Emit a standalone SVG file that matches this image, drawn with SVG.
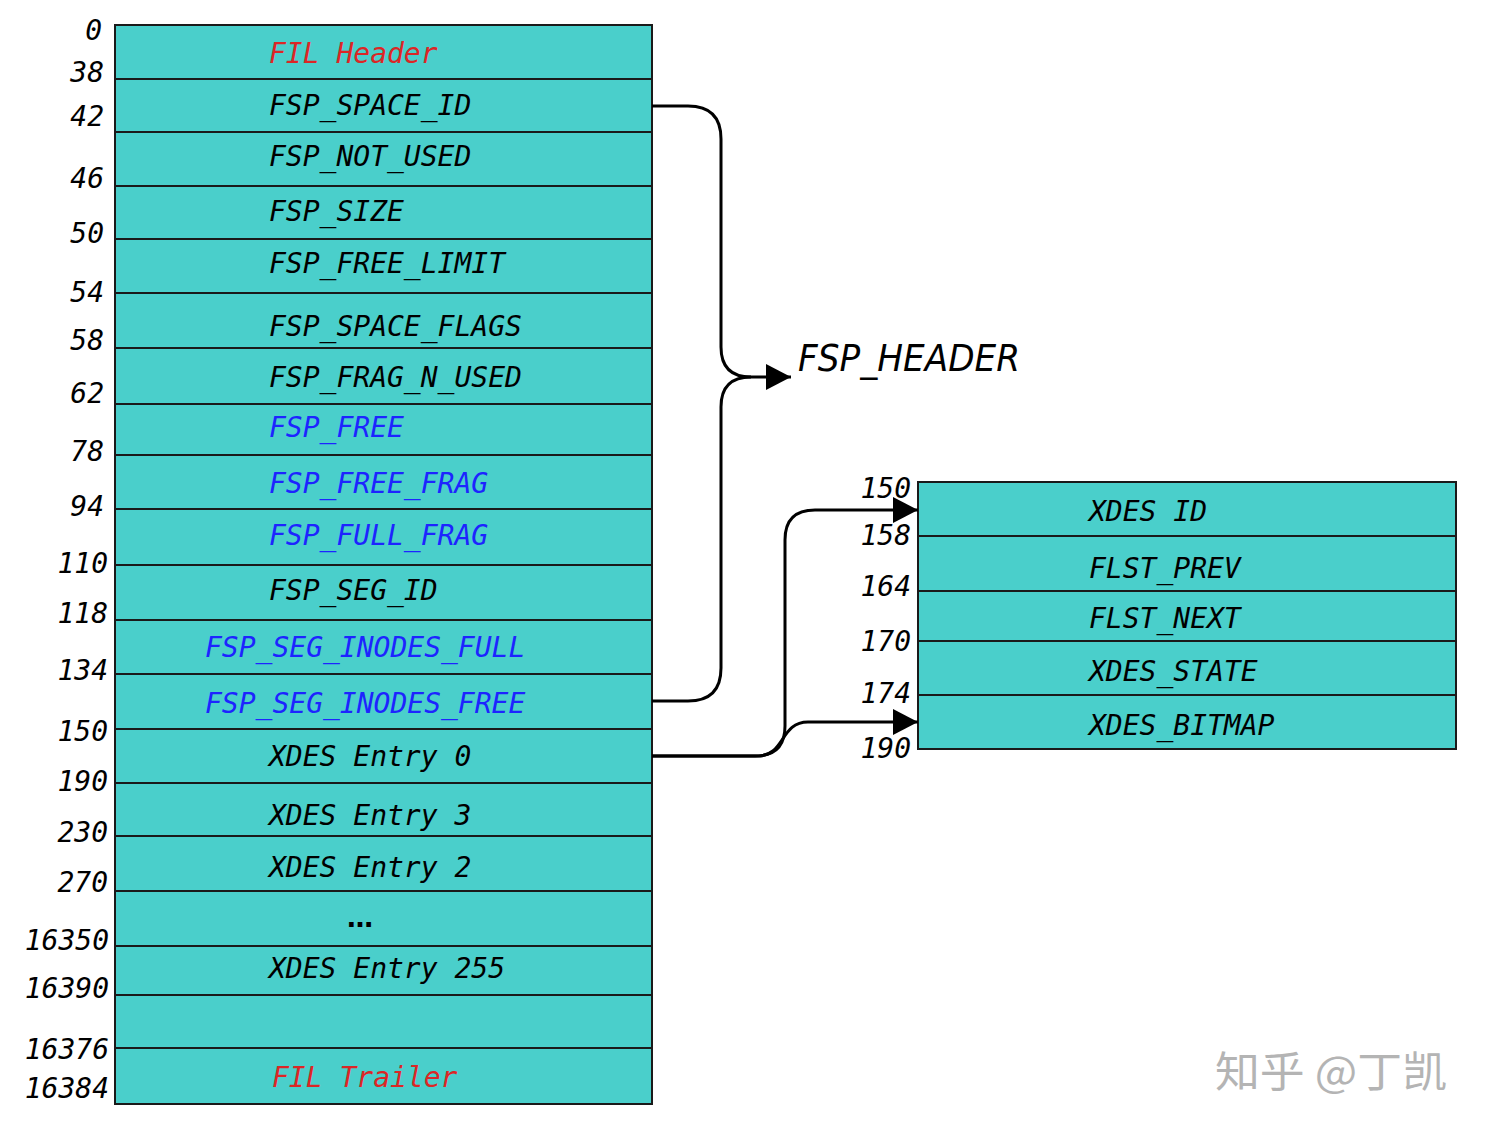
<svg xmlns="http://www.w3.org/2000/svg" width="1486" height="1132" viewBox="0 0 1486 1132">
<style>
.cell{fill:#4acfcb;stroke:#1a1a1a;stroke-width:2}
.t{font-family:"DejaVu Sans Mono","Liberation Mono",monospace;font-style:italic;font-size:28px;fill:#000}
.off{font-family:"DejaVu Sans Mono","Liberation Mono",monospace;font-style:italic;font-size:28px;fill:#000;text-anchor:end}
.red{fill:#dc2626}
.blue{fill:#1d24ff}
.conn{fill:none;stroke:#000;stroke-width:3}
</style>
<defs>
<marker id="arr" markerUnits="userSpaceOnUse" markerWidth="27" markerHeight="28" refX="25" refY="13" orient="auto">
<path d="M0,0 L25,13 L0,26 Z" fill="#000"/>
</marker>
</defs>
<rect width="1486" height="1132" fill="#fff"/>

<g id="page">
<g id="r-fil-header"><rect class="cell" x="115" y="25" width="537" height="54"/><text class="t red" x="269" y="63">FIL Header</text></g>
<g id="r-space-id"><rect class="cell" x="115" y="79" width="537" height="53"/><text class="t" x="269" y="115">FSP_SPACE_ID</text></g>
<g id="r-not-used"><rect class="cell" x="115" y="132" width="537" height="54"/><text class="t" x="269" y="166">FSP_NOT_USED</text></g>
<g id="r-size"><rect class="cell" x="115" y="186" width="537" height="53"/><text class="t" x="269" y="221">FSP_SIZE</text></g>
<g id="r-free-limit"><rect class="cell" x="115" y="239" width="537" height="54"/><text class="t" x="269" y="273">FSP_FREE_LIMIT</text></g>
<g id="r-space-flags"><rect class="cell" x="115" y="293" width="537" height="55"/><text class="t" x="269" y="336">FSP_SPACE_FLAGS</text></g>
<g id="r-frag-n-used"><rect class="cell" x="115" y="348" width="537" height="56"/><text class="t" x="269" y="387">FSP_FRAG_N_USED</text></g>
<g id="r-free"><rect class="cell" x="115" y="404" width="537" height="51"/><text class="t blue" x="269" y="437">FSP_FREE</text></g>
<g id="r-free-frag"><rect class="cell" x="115" y="455" width="537" height="54"/><text class="t blue" x="269" y="493">FSP_FREE_FRAG</text></g>
<g id="r-full-frag"><rect class="cell" x="115" y="509" width="537" height="56"/><text class="t blue" x="269" y="545">FSP_FULL_FRAG</text></g>
<g id="r-seg-id"><rect class="cell" x="115" y="565" width="537" height="55"/><text class="t" x="269" y="600">FSP_SEG_ID</text></g>
<g id="r-inodes-full"><rect class="cell" x="115" y="620" width="537" height="54"/><text class="t blue" x="205" y="657">FSP_SEG_INODES_FULL</text></g>
<g id="r-inodes-free"><rect class="cell" x="115" y="674" width="537" height="55"/><text class="t blue" x="205" y="713">FSP_SEG_INODES_FREE</text></g>
<g id="r-xdes0"><rect class="cell" x="115" y="729" width="537" height="54"/><text class="t" x="269" y="766">XDES Entry 0</text></g>
<g id="r-xdes3"><rect class="cell" x="115" y="783" width="537" height="53"/><text class="t" x="269" y="825">XDES Entry 3</text></g>
<g id="r-xdes2"><rect class="cell" x="115" y="836" width="537" height="55"/><text class="t" x="269" y="877">XDES Entry 2</text></g>
<g id="r-ellipsis"><rect class="cell" x="115" y="891" width="537" height="55"/><text x="360" y="927" text-anchor="middle" font-family="DejaVu Sans,sans-serif" font-weight="bold" font-size="26" fill="#000">…</text></g>
<g id="r-xdes255"><rect class="cell" x="115" y="946" width="537" height="49"/><text class="t" x="269" y="978">XDES Entry 255</text></g>
<g id="r-empty"><rect class="cell" x="115" y="995" width="537" height="53"/></g>
<g id="r-fil-trailer"><rect class="cell" x="115" y="1048" width="537" height="56"/><text class="t red" x="272" y="1087">FIL Trailer</text></g>
</g>

<g id="offsets-left">
<text class="off" x="102" y="40">0</text>
<text class="off" x="104" y="82">38</text>
<text class="off" x="104" y="126">42</text>
<text class="off" x="104" y="188">46</text>
<text class="off" x="104" y="243">50</text>
<text class="off" x="104" y="302">54</text>
<text class="off" x="104" y="350">58</text>
<text class="off" x="104" y="403">62</text>
<text class="off" x="104" y="461">78</text>
<text class="off" x="104" y="516">94</text>
<text class="off" x="108" y="573">110</text>
<text class="off" x="108" y="623">118</text>
<text class="off" x="108" y="680">134</text>
<text class="off" x="108" y="741">150</text>
<text class="off" x="108" y="791">190</text>
<text class="off" x="108" y="842">230</text>
<text class="off" x="108" y="892">270</text>
<text class="off" x="109" y="950">16350</text>
<text class="off" x="109" y="998">16390</text>
<text class="off" x="109" y="1059">16376</text>
<text class="off" x="109" y="1098">16384</text>
</g>

<g id="xdes">
<g id="x-id"><rect class="cell" x="918" y="482" width="538" height="54"/><text class="t" x="1089" y="521">XDES ID</text></g>
<g id="x-prev"><rect class="cell" x="918" y="536" width="538" height="55"/><text class="t" x="1089" y="578">FLST_PREV</text></g>
<g id="x-next"><rect class="cell" x="918" y="591" width="538" height="50"/><text class="t" x="1089" y="628">FLST_NEXT</text></g>
<g id="x-state"><rect class="cell" x="918" y="641" width="538" height="54"/><text class="t" x="1089" y="681">XDES_STATE</text></g>
<g id="x-bitmap"><rect class="cell" x="918" y="695" width="538" height="54"/><text class="t" x="1089" y="735">XDES_BITMAP</text></g>
</g>

<g id="offsets-right">
<text class="off" x="911" y="498">150</text>
<text class="off" x="911" y="545">158</text>
<text class="off" x="911" y="596">164</text>
<text class="off" x="911" y="651">170</text>
<text class="off" x="911" y="703">174</text>
<text class="off" x="911" y="758">190</text>
</g>

<g id="label-fsp-header">
<text x="798" y="371" font-family="DejaVu Sans,sans-serif" font-style="italic" font-size="37" textLength="222" lengthAdjust="spacingAndGlyphs" fill="#000">FSP_HEADER</text>
</g>

<g id="connectors">
<path class="conn" d="M652,106 H688 Q721,106 721,139 V347 Q721,377 751,377 H791" marker-end="url(#arr)"/>
<path class="conn" d="M652,701 H688 Q721,701 721,668 V407 Q721,377 751,377"/>
<path class="conn" d="M652,756 H755 Q785,756 785,726 V540 Q785,510 815,510 H918" marker-end="url(#arr)"/>
<path class="conn" d="M652,756 H758 C785,756 780,722 808,722 H918" marker-end="url(#arr)"/>
</g>

<g id="watermark">
<text x="1215" y="1087" font-family="Noto Sans CJK SC,sans-serif" font-size="42" fill="#b4b4b4" textLength="232" lengthAdjust="spacingAndGlyphs">知乎 @丁凯</text>
</g>
</svg>
